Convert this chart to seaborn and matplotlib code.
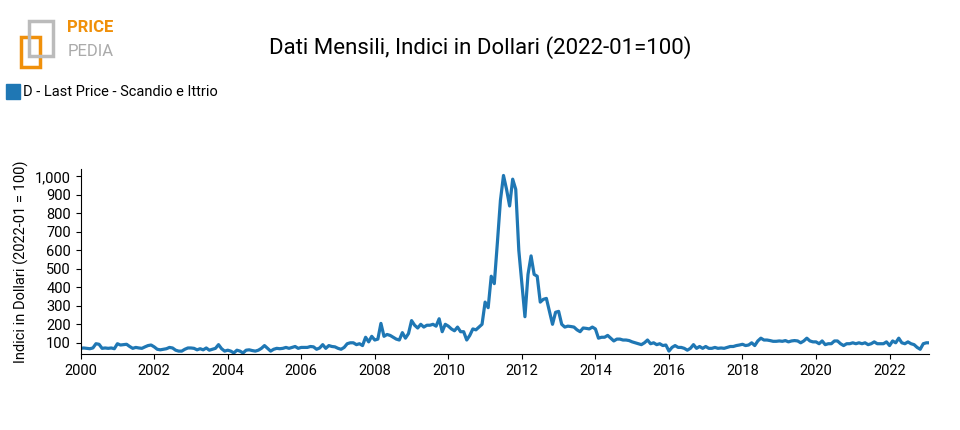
import pandas as pd
import numpy as np
import matplotlib
matplotlib.use("Agg")
import matplotlib.pyplot as plt
import matplotlib.ticker as mticker
import seaborn as sns

# monthly values, Jan 2000 .. Feb 2023
v2000 = [70, 72, 70, 68, 72, 95, 92, 70, 72, 70, 72, 68]
v2001 = [95, 88, 90, 92, 80, 70, 75, 72, 70, 78, 85, 88]
v2002 = [78, 65, 62, 65, 68, 75, 72, 60, 55, 55, 65, 72]
v2003 = [72, 70, 62, 68, 62, 72, 60, 65, 70, 90, 68, 55]
v2004 = [60, 55, 45, 60, 55, 45, 60, 62, 58, 55, 60, 70]
v2005 = [85, 70, 55, 65, 70, 68, 70, 75, 70, 75, 80, 70]
v2006 = [75, 75, 75, 80, 78, 65, 72, 90, 70, 85, 80, 78]
v2007 = [70, 65, 75, 95, 100, 100, 90, 95, 85, 130, 105, 135]
v2008 = [115, 120, 205, 135, 145, 140, 130, 120, 115, 155, 125, 150]
v2009 = [220, 195, 180, 200, 185, 195, 195, 200, 190, 230, 160, 200]
v2010 = [190, 175, 165, 185, 160, 160, 115, 140, 175, 170, 185, 200]
v2011 = [320, 290, 460, 420, 640, 870, 1005, 930, 840, 985, 930, 600]
v2012 = [420, 241, 470, 570, 470, 460, 320, 335, 340, 270, 200, 265]
v2013 = [270, 200, 185, 190, 188, 185, 170, 160, 180, 178, 175, 185]
v2014 = [175, 125, 130, 130, 140, 125, 110, 120, 120, 115, 115, 112]
v2015 = [105, 100, 95, 90, 100, 115, 95, 100, 90, 95, 85, 88]
v2016 = [55, 75, 85, 75, 75, 70, 60, 70, 90, 70, 80, 70]
v2017 = [80, 70, 70, 75, 70, 72, 70, 75, 80, 80, 85, 88]
v2018 = [92, 85, 88, 100, 85, 110, 125, 115, 115, 112, 108, 108]
v2019 = [110, 108, 112, 105, 110, 112, 110, 100, 110, 125, 110, 105]
v2020 = [105, 95, 110, 90, 95, 95, 110, 110, 95, 85, 95, 95]
v2021 = [100, 95, 100, 95, 100, 90, 95, 105, 95, 95, 95, 105]
v2022 = [85, 110, 100, 125, 100, 95, 105, 95, 90, 75, 65, 95]
v2023 = [100, 100]

values = (v2000 + v2001 + v2002 + v2003 + v2004 + v2005 + v2006 + v2007 + v2008
          + v2009 + v2010 + v2011 + v2012 + v2013 + v2014 + v2015 + v2016 + v2017
          + v2018 + v2019 + v2020 + v2021 + v2022 + v2023)
dates = pd.date_range("2000-01-01", periods=len(values), freq="MS")
df = pd.DataFrame({"date": dates, "value": values})
df["year"] = df["date"].dt.year + (df["date"].dt.month - 1) / 12

fig = plt.figure(figsize=(9.6, 4.3), dpi=100)
ax = fig.add_axes([0.084, 0.177, 0.884, 0.43])
color = "#1f77b4"
sns.lineplot(data=df, x="year", y="value", ax=ax, color=color, linewidth=2.3)

ax.set_xlim(2000, 2023.08)
ax.set_ylim(40, 1040)
ax.set_xticks(range(2000, 2023, 2))
ax.set_yticks(range(100, 1001, 100))
ax.yaxis.set_major_formatter(mticker.FuncFormatter(lambda v, p: f"{int(v):,}"))
ax.tick_params(labelsize=10.5)
for lab in ax.get_xticklabels() + ax.get_yticklabels():
    lab.set_fontfamily("Roboto")
sns.despine(ax=ax)
ax.set_xlabel("")
ax.set_ylabel("Indici in Dollari (2022-01 = 100)", fontsize=10.5, family="Roboto")

fig.text(0.5, 0.89, "Dati Mensili, Indici in Dollari (2022-01=100)", ha="center",
         va="center", fontsize=16, family="Roboto")
fig.patches.append(plt.Rectangle((0.006, 0.77), 0.015, 0.035, transform=fig.transFigure,
                                 color=color, figure=fig))
fig.text(0.024, 0.787, "D - Last Price - Scandio e Ittrio", va="center", fontsize=10.5,
         family="Roboto")
# logo
fig.text(0.07, 0.925, "PRICE", color="#f0900a", fontsize=12, fontweight="bold", family="Roboto")
fig.text(0.07, 0.87, "PEDIA", color="#aaaaaa", fontsize=12, family="Roboto")
fig.patches.append(plt.Rectangle((0.022, 0.845), 0.02, 0.07, transform=fig.transFigure,
                                 fill=False, edgecolor="#f0900a", linewidth=2.5, figure=fig))
fig.patches.append(plt.Rectangle((0.03, 0.87), 0.025, 0.08, transform=fig.transFigure,
                                 fill=False, edgecolor="#bbbbbb", linewidth=2.5, figure=fig))

fig.savefig("out.png", dpi=100)
